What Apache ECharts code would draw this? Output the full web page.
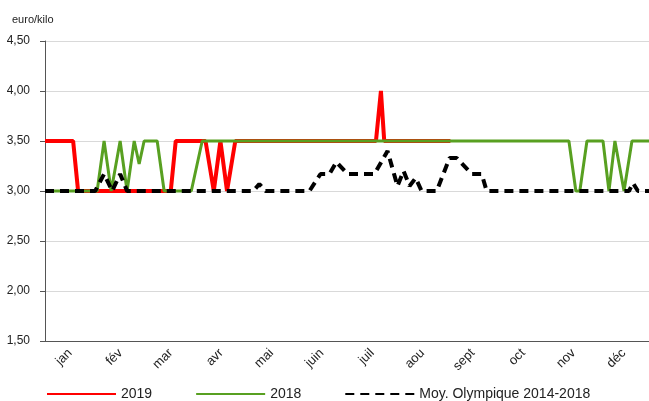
<!DOCTYPE html>
<html>
<head>
<meta charset="utf-8">
<script src="https://cdn.jsdelivr.net/npm/echarts@6/dist/echarts.min.js"></script>
<style>
  html, body { margin: 0; padding: 0; background: #fff; }
  #chart { width: 649px; height: 401px; }
</style>
</head>
<body>
<div id="chart"></div>
<script>
// mois (étiquettes de l'axe x)
var months = ['jan', 'fév', 'mar', 'avr', 'mai', 'juin', 'juil', 'aou', 'sept', 'oct', 'nov', 'déc'];

// 2019 : jour de l'année / prix
var days2019 = [0, 17, 20, 76, 79, 97, 102, 106, 110, 115, 200, 203, 205, 245];
var vals2019 = [3.5, 3.5, 3.0, 3.0, 3.5, 3.5, 3.0, 3.5, 3.0, 3.5, 3.5, 4.0, 3.5, 3.5];

// 2018
var days2018 = [0, 31.5, 35.7, 40, 45.4, 49.6, 53.9, 56.9, 59.9, 67.8, 72, 88.4, 95,
  316.6, 320.8, 323.2, 327.5, 337.2, 340.8, 344.4, 349.9, 354.7, 365];
var vals2018 = [3.0, 3.0, 3.5, 3.0, 3.5, 3.0, 3.5, 3.27, 3.5, 3.5, 3.0, 3.0, 3.5,
  3.5, 3.0, 3.0, 3.5, 3.5, 3.0, 3.5, 3.0, 3.5, 3.5];

// moyenne olympique 2014-2018
var daysMoy = [0, 30.3, 35.7, 40.6, 45.4, 49.6, 125.9, 129.5, 133.2, 159.8, 166.5, 171.9,
  176.1, 182.8, 199.1, 207, 213, 216.7, 220.3, 224, 227.6, 236.7, 244.5, 248.8,
  257.9, 263.9, 266.9, 352.9, 355.3, 358.3, 365];
var valsMoy = [3.0, 3.0, 3.17, 3.0, 3.17, 3.0, 3.0, 3.07, 3.0, 3.0, 3.17, 3.17,
  3.29, 3.17, 3.17, 3.4, 3.05, 3.2, 3.05, 3.13, 3.0, 3.0, 3.33, 3.33,
  3.17, 3.17, 3.0, 3.0, 3.08, 3.0, 3.0];

function pairs(xs, ys) {
  return xs.map(function (x, i) { return [x, ys[i]]; });
}

var chart = echarts.init(document.getElementById('chart'));
var font = 'Liberation Sans, Arial, sans-serif';

var option = {
  animation: false,
  textStyle: { fontFamily: font },
  title: {
    text: 'euro/kilo',
    left: 7,
    top: 9,
    textStyle: { fontSize: 11, fontWeight: 'normal', color: '#222', fontFamily: font }
  },
  grid: { left: 45, right: 0, top: 41, bottom: 60 },
  legend: {
    left: 41,
    top: 382,
    itemWidth: 69,
    itemHeight: 14,
    itemGap: 43,
    itemStyle: { opacity: 0 },
    textStyle: { fontSize: 14, color: '#222', fontFamily: font },
    data: ['2019', '2018', 'Moy. Olympique 2014-2018']
  },
  xAxis: [
    {
      type: 'value',
      min: 0,
      max: 365,
      axisLine: { show: true, lineStyle: { color: '#555', width: 1 } },
      axisTick: { show: false },
      axisLabel: { show: false },
      splitLine: { show: false }
    },
    {
      type: 'category',
      position: 'bottom',
      boundaryGap: true,
      data: months,
      axisLine: { show: false },
      axisTick: { show: false },
      splitLine: { show: false },
      axisLabel: {
        rotate: 45,
        margin: 10,
        fontSize: 13,
        color: '#222',
        fontFamily: font
      }
    }
  ],
  yAxis: {
    type: 'value',
    min: 1.5,
    max: 4.5,
    interval: 0.5,
    axisLine: { show: true, lineStyle: { color: '#555', width: 1 } },
    axisTick: { show: true, length: 5, lineStyle: { color: '#555' } },
    axisLabel: {
      fontSize: 12,
      color: '#222',
      margin: 15,
      fontFamily: font,
      formatter: function (v) { return v.toFixed(2).replace('.', ','); }
    },
    splitLine: { lineStyle: { color: '#d9d9d9', width: 1 } }
  },
  series: [
    {
      name: '2019',
      type: 'line',
      xAxisIndex: 0,
      data: pairs(days2019, vals2019),
      showSymbol: false,
      symbol: 'none',
      color: '#ff0000',
      lineStyle: { color: '#ff0000', width: 4 }
    },
    {
      name: '2018',
      type: 'line',
      xAxisIndex: 0,
      data: pairs(days2018, vals2018),
      showSymbol: false,
      symbol: 'none',
      color: '#58a021',
      lineStyle: { color: '#58a021', width: 3 }
    },
    {
      name: 'Moy. Olympique 2014-2018',
      type: 'line',
      xAxisIndex: 0,
      data: pairs(daysMoy, valsMoy),
      showSymbol: false,
      symbol: 'none',
      color: '#000',
      lineStyle: { color: '#000', width: 4, type: [9, 6] }
    }
  ]
};

chart.setOption(option);
</script>
</body>
</html>
